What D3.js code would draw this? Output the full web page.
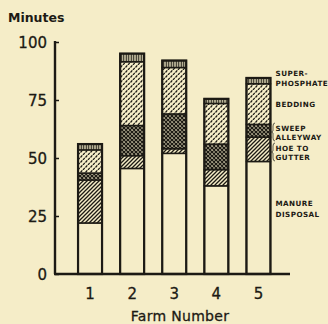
<!DOCTYPE html>
<html><head><meta charset="utf-8">
<script src="https://cdn.jsdelivr.net/npm/d3@7"></script>
<style>
html,body{margin:0;padding:0;background:#f5edc8;}
svg{display:block;}
</style></head><body>
<script>
const categories = ["1","2","3","4","5"];
const manure   = [22, 45.5, 52, 38, 48.5];
const hoe      = [18.5, 5.5, 2, 7, 10.5];
const sweep    = [3, 13, 15, 11, 5.5];
const bedding  = [10, 27.5, 20, 17.5, 17.5];
const superP   = [2.5, 3.5, 3, 2, 2.5];
const seriesNames = ["manure","hoe","sweep","bedding","super"];
const yTicks = [0,25,50,75,100];
const legendLines = [
  {t:"SUPER-", y:76}, {t:"PHOSPHATE", y:86},
  {t:"BEDDING", y:107},
  {t:"SWEEP", y:131}, {t:"ALLEYWAY", y:140},
  {t:"HOE TO", y:151}, {t:"GUTTER", y:160},
  {t:"MANURE", y:206}, {t:"DISPOSAL", y:217}
];

const W=328,H=324, ink="#1c1a14", bg="#f5edc8";
const svg=d3.select("body").append("svg").attr("width",W).attr("height",H);
svg.append("rect").attr("width",W).attr("height",H).attr("fill",bg);

const defs=svg.append("defs");
function pat(id,w,h,draw){
  const p=defs.append("pattern").attr("id",id).attr("patternUnits","userSpaceOnUse").attr("width",w).attr("height",h);
  p.append("rect").attr("width",w).attr("height",h).attr("fill",bg);
  draw(p);
}
pat("p-hoe",4,4,p=>{
  p.append("path").attr("d","M-1,1 L1,-1 M0,4 L4,0 M3,5 L5,3").attr("stroke",ink).attr("stroke-width",1.3);
});
pat("p-sweep",4,4,p=>{
  p.append("path").attr("d","M-1,1 L1,-1 M0,4 L4,0 M3,5 L5,3 M-1,3 L1,5 M0,0 L4,4 M3,-1 L5,1").attr("stroke",ink).attr("stroke-width",1.5);
});
pat("p-bed",5,5,p=>{
  p.append("path").attr("d","M0.5,2.5 L2.3,0.3 M3,5 L4.8,2.8").attr("stroke",ink).attr("stroke-width",1.2);
});
pat("p-super",2.5,4,p=>{
  p.append("path").attr("d","M1.25,0 L1.25,4").attr("stroke",ink).attr("stroke-width",1.3);
});
const fills={manure:bg,hoe:"url(#p-hoe)",sweep:"url(#p-sweep)",bedding:"url(#p-bed)",super:"url(#p-super)"};

const x=d3.scaleBand().domain(categories).range([69,279.5]).paddingInner(0.43).paddingOuter(0.215);
const y=d3.scaleLinear().domain([0,100]).range([274,42]);

const rows=categories.map((c,i)=>({cat:c,manure:manure[i],hoe:hoe[i],sweep:sweep[i],bedding:bedding[i],super:superP[i]}));
const stack=d3.stack().keys(seriesNames)(rows);

const g=svg.append("g");
stack.forEach(layer=>{
  g.selectAll(null).data(layer).enter().append("rect")
   .attr("x",d=>x(d.data.cat)).attr("width",x.bandwidth())
   .attr("y",d=>y(d[1])).attr("height",d=>y(d[0])-y(d[1]))
   .attr("fill",fills[layer.key]).attr("stroke",ink).attr("stroke-width",1.5);
});
g.selectAll(null).data(stack[stack.length-1]).enter().append("rect")
  .attr("x",d=>x(d.data.cat)).attr("width",x.bandwidth())
  .attr("y",d=>y(d[1])).attr("height",d=>y(0)-y(d[1]))
  .attr("fill","none").attr("stroke",ink).attr("stroke-width",2.2);

const yAxis=d3.axisRight(y).tickValues(yTicks).tickSize(4).tickFormat("");
const ya=svg.append("g").attr("transform","translate(55,0)").call(yAxis);
ya.select(".domain").remove();
ya.selectAll("line").attr("stroke",ink).attr("stroke-width",1.5);
svg.append("line").attr("x1",55).attr("x2",55).attr("y1",y(100)-1).attr("y2",y(0)).attr("stroke",ink).attr("stroke-width",2.4);
svg.selectAll(null).data(yTicks).enter().append("text")
  .attr("x",47).attr("y",d=>y(d)+5.5).attr("text-anchor","end")
  .attr("font-family","DejaVu Sans").attr("font-size",15).attr("fill",ink)
  .attr("stroke",ink).attr("stroke-width",0.3).text(d=>d);
svg.append("line").attr("x1",54).attr("x2",290).attr("y1",y(0)).attr("y2",y(0)).attr("stroke",ink).attr("stroke-width",2.4);
const xa=svg.append("g").attr("transform",`translate(0,${y(0)})`).call(d3.axisBottom(x).tickSize(0).tickPadding(14));
xa.select(".domain").remove();
xa.selectAll("text").attr("font-family","DejaVu Sans").attr("font-size",15).attr("fill",ink)
  .attr("stroke",ink).attr("stroke-width",0.3);

svg.append("text").attr("x",8).attr("y",22).attr("font-family","DejaVu Sans").attr("font-weight","bold")
  .attr("font-size",12.5).attr("fill",ink).text("Minutes");
svg.append("text").attr("x",180).attr("y",321).attr("text-anchor","middle").attr("font-family","DejaVu Sans")
  .attr("font-size",14).attr("fill",ink).attr("letter-spacing",0.3)
  .attr("stroke",ink).attr("stroke-width",0.3).text("Farm Number");

svg.selectAll(null).data(legendLines).enter().append("text")
  .attr("x",275.5).attr("y",d=>d.y).attr("font-family","DejaVu Sans").attr("font-weight","bold")
  .attr("font-size",7.2).attr("letter-spacing",0.45).attr("fill",ink).text(d=>d.t);
[[123,141],[143,161]].forEach(([a,b])=>{
  const m=(a+b)/2;
  svg.append("path").attr("d",`M275,${a} Q273,${a} 273,${a+3} L273,${m-1} L271.5,${m} L273,${m+1} L273,${b-3} Q273,${b} 275,${b}`)
    .attr("fill","none").attr("stroke",ink).attr("stroke-width",0.7);
});
</script>
</body></html>
